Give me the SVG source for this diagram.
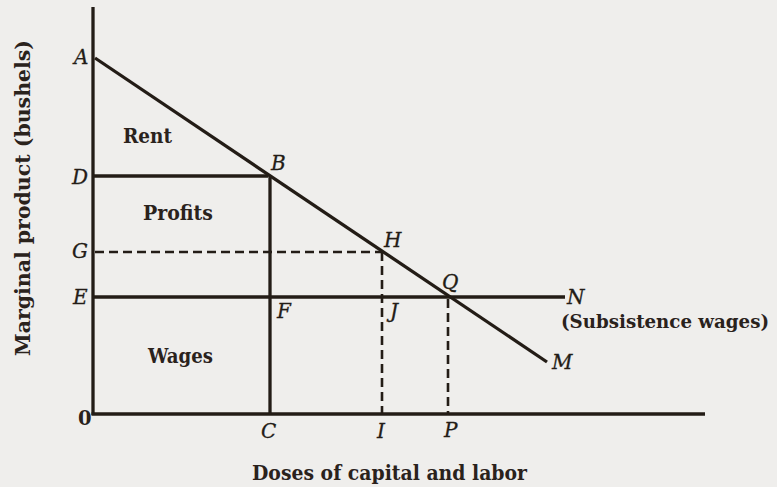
<svg xmlns="http://www.w3.org/2000/svg" width="777" height="487" viewBox="0 0 777 487">
<style>
.ln{stroke:#231c16;stroke-width:3.3;fill:none;stroke-linecap:butt}
.ds{stroke:#231c16;stroke-width:2.6;fill:none;stroke-dasharray:9 5}
.pt{font-family:"DejaVu Serif","Liberation Serif",serif;font-style:italic;font-size:20px;fill:#231c16;stroke:#231c16;stroke-width:0.3}
.lb{font-family:"DejaVu Serif","Liberation Serif",serif;font-weight:bold;font-size:19.5px;fill:#2a221c}
</style>
<rect width="777" height="487" fill="#efeeec"/>
<g id="connectors">
<line class="ln" x1="93" y1="7" x2="93" y2="415"/>
<line class="ln" x1="91.5" y1="414" x2="705" y2="414"/>
<line class="ln" x1="95" y1="58" x2="547" y2="362"/>
<line class="ln" x1="93" y1="176" x2="268" y2="176"/>
<line class="ln" x1="270" y1="176" x2="270" y2="414"/>
<line class="ln" x1="93" y1="297" x2="565" y2="297"/>
<line class="ds" x1="95" y1="252" x2="383" y2="252"/>
<line class="ds" x1="382" y1="252" x2="382" y2="413"/>
<line class="ds" x1="448" y1="299" x2="448" y2="413"/>
</g>
<g id="A"><text class="pt" x="74" y="64">A</text></g>
<g id="B"><text class="pt" x="271" y="170">B</text></g>
<g id="D"><text class="pt" x="72" y="184">D</text></g>
<g id="G"><text class="pt" x="72" y="258">G</text></g>
<g id="E"><text class="pt" x="73" y="304">E</text></g>
<g id="F"><text class="pt" x="277" y="318">F</text></g>
<g id="H"><text class="pt" x="384" y="247">H</text></g>
<g id="Q"><text class="pt" x="442" y="289">Q</text></g>
<g id="J"><text class="pt" x="390" y="318">J</text></g>
<g id="N"><text class="pt" x="567" y="304">N</text></g>
<g id="M"><text class="pt" x="552" y="369">M</text></g>
<g id="O"><text class="lb" x="78" y="425">0</text></g>
<g id="C"><text class="pt" x="261" y="438">C</text></g>
<g id="I"><text class="pt" x="377" y="438">I</text></g>
<g id="P"><text class="pt" x="444" y="437">P</text></g>
<g id="rent"><text class="lb" x="123" y="143" textLength="49" lengthAdjust="spacingAndGlyphs">Rent</text></g>
<g id="profits"><text class="lb" x="143" y="220" textLength="70" lengthAdjust="spacingAndGlyphs">Profits</text></g>
<g id="wages"><text class="lb" x="148" y="363" textLength="65" lengthAdjust="spacingAndGlyphs">Wages</text></g>
<g id="subsistence"><text class="lb" x="561" y="328" style="font-size:18.5px" textLength="208" lengthAdjust="spacingAndGlyphs">(Subsistence wages)</text></g>
<g id="xlabel"><text class="lb" x="252" y="480" textLength="275" lengthAdjust="spacingAndGlyphs">Doses of capital and labor</text></g>
<g id="ylabel"><text class="lb" transform="translate(30,356) rotate(-90)" textLength="316" lengthAdjust="spacingAndGlyphs">Marginal product (bushels)</text></g>
</svg>
